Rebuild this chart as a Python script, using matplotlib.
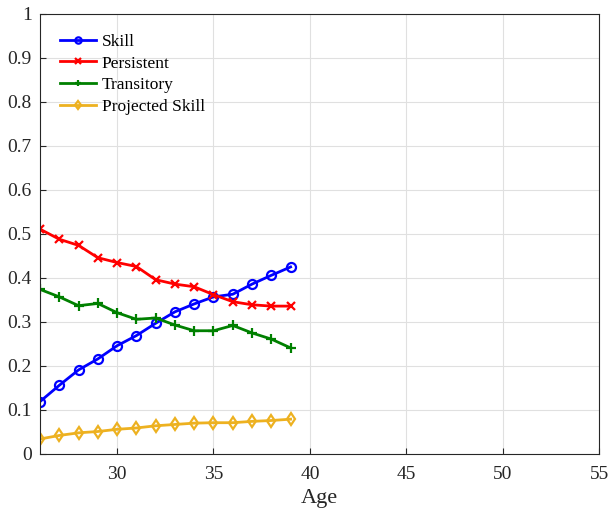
import numpy as np
import matplotlib
matplotlib.use('Agg')
import matplotlib.pyplot as plt

plt.rcParams['font.family'] = ['Liberation Serif', 'DejaVu Serif']

age = np.arange(26, 40)
skill = [0.118, 0.155, 0.190, 0.215, 0.245, 0.268, 0.296, 0.322, 0.340, 0.356, 0.362, 0.385, 0.405, 0.424]
persistent = [0.510, 0.487, 0.473, 0.445, 0.434, 0.425, 0.395, 0.385, 0.379, 0.361, 0.345, 0.338, 0.335, 0.335]
transitory = [0.373, 0.356, 0.336, 0.341, 0.320, 0.305, 0.308, 0.292, 0.279, 0.279, 0.291, 0.274, 0.260, 0.240]
projected = [0.033, 0.041, 0.047, 0.050, 0.055, 0.058, 0.063, 0.066, 0.069, 0.070, 0.070, 0.073, 0.075, 0.078]

fig = plt.figure(figsize=(6.1, 5.14), dpi=100)
ax = fig.add_axes([0.0656, 0.1177, 0.9164, 0.856])

dark = (0.15, 0.15, 0.15)
lw = 2
ax.plot(age, skill, '-o', color='b', lw=lw, ms=6.5, mfc='none', mew=1.6, label='Skill')
ax.plot(age, persistent, '-x', color='r', lw=lw, ms=6, mew=1.6, label='Persistent')
ax.plot(age, transitory, '-+', color=(0, 0.5, 0), lw=lw, ms=7, mew=1.6, label='Transitory')
ax.plot(age, projected, '-d', color=(0.929, 0.694, 0.125), lw=lw, ms=6.5, mfc='none', mew=1.6,
        label='Projected Skill')

ax.set_xlim(26, 55)
ax.set_ylim(0, 1)
ax.set_xticks(np.arange(30, 56, 5))
ax.set_yticks(np.arange(0, 1.01, 0.1))
ax.set_yticklabels(['0', '0.1', '0.2', '0.3', '0.4', '0.5', '0.6', '0.7', '0.8', '0.9', '1'])
ax.grid(True, color=(0.88, 0.88, 0.88), lw=0.8)
ax.set_axisbelow(True)
ax.tick_params(direction='in', labelsize=14, colors=dark, length=4)
ax.tick_params(axis='x', pad=9)
ax.tick_params(axis='y', pad=6)
for s in ax.spines.values():
    s.set_color(dark)
ax.set_xlabel('Age', fontsize=16, color=dark, labelpad=4)

ax.legend(loc='upper left', frameon=False, fontsize=12.5, handlelength=2.1,
          handletextpad=0.3, labelspacing=0.33, borderaxespad=0.75, markerscale=0.7)

fig.savefig('out.png', dpi=100)
